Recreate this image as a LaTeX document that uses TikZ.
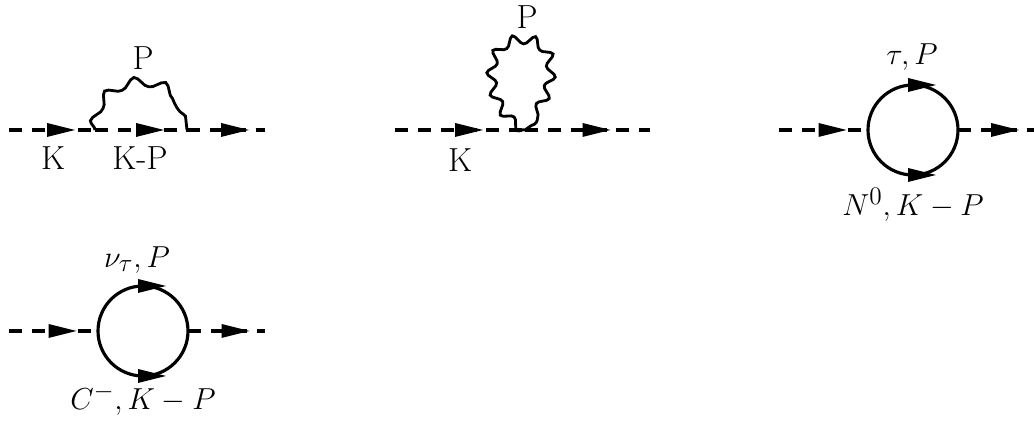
\documentclass[tikz,border=0pt]{standalone}
\usetikzlibrary{decorations.markings,decorations.pathmorphing}

\tikzset{
  arrowmark/.style={postaction={decorate},
    decoration={markings, mark=at position 0.5 with {\fill (-5,-7) -- (23,0) -- (-5,7) -- cycle;}}},
  scalar/.style={line width=1.8pt, dash pattern=on 7.4pt off 5.6pt, arrowmark},
  fermion/.style={line width=1.8pt, arrowmark},
  photon/.style={line width=1.6pt, decorate,
    decoration={snake, amplitude=2.6pt, segment length=#1}},
  photon/.default=16pt,
  lbl/.style={font=\fontsize{19}{22}\selectfont, inner sep=0pt}
}

\begin{document}
\begin{tikzpicture}[x=0.02cm,y=0.02cm]
	\useasboundingbox (0,0) rectangle (1034,421);

	% photon arc
	\coordinate (a1) at (9,291);
	\coordinate (v1) at (95,291);
	\coordinate (w1) at (187,291);
	\coordinate (b1) at (265,291);
	\draw[scalar] (a1) -- (v1);
	\draw[scalar] (v1) -- (w1);
	\draw[scalar] (w1) -- (b1);
	\draw[photon=17pt] (v1) arc[start angle=180, end angle=0, x radius=46, y radius=41];
	\node[lbl] (p1) at (143,363) {P};
	\node[lbl] (k1) at (53,263) {K};
	\node[lbl] (kp1) at (140,263) {K-P};

	% tadpole
	\coordinate (a2) at (395,291);
	\coordinate (v2) at (525,291);
	\coordinate (b2) at (650,291);
	\coordinate (t2) at (527,379);
	\draw[scalar] (a2) -- (v2);
	\draw[scalar] (v2) -- (b2);
	\draw[photon=12pt] (v2) to[out=150, in=180, looseness=1.25] (t2) to[out=0, in=35, looseness=1.25] (v2);
	\node[lbl] (p2) at (527,404) {P};
	\node[lbl] (k2) at (460,261) {K};

	% tau loop
	\coordinate (a3) at (779,291);
	\coordinate (l3) at (868,291);
	\coordinate (r3) at (958,291);
	\coordinate (b3) at (1034,291);
	\draw[scalar] (a3) -- (l3);
	\draw[scalar] (r3) -- (b3);
	\draw[fermion] (l3) arc[start angle=180, end angle=0, radius=45];
	\draw[fermion] (l3) arc[start angle=180, end angle=360, radius=45];
	\node[lbl] (up3) at (912,364) {$\tau, P$};
	\node[lbl] (dn3) at (913,216) {$N^0, K-P$};

	% charged loop
	\coordinate (a4) at (9,90);
	\coordinate (l4) at (98,90);
	\coordinate (r4) at (188,90);
	\coordinate (b4) at (265,90);
	\draw[scalar] (a4) -- (l4);
	\draw[scalar] (r4) -- (b4);
	\draw[fermion] (l4) arc[start angle=180, end angle=0, radius=45];
	\draw[fermion] (l4) arc[start angle=180, end angle=360, radius=45];
	\node[lbl] (up4) at (137,161) {$\nu_\tau, P$};
	\node[lbl] (dn4) at (143,21) {$C^-, K-P$};

\end{tikzpicture}
\end{document}
